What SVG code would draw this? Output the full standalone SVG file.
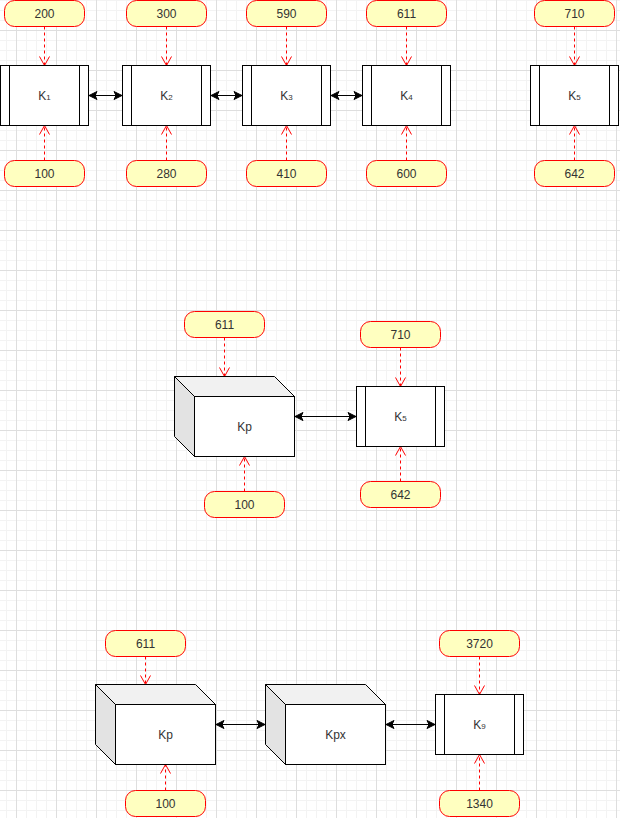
<svg xmlns="http://www.w3.org/2000/svg" width="620" height="818" viewBox="0 0 620 818">
<defs>
<pattern id="grid" width="40" height="40" patternUnits="userSpaceOnUse" x="16" y="30">
<rect x="10" y="0" width="1" height="40" fill="#f3f3f3"/>
<rect x="20" y="0" width="1" height="40" fill="#f3f3f3"/>
<rect x="30" y="0" width="1" height="40" fill="#f3f3f3"/>
<rect x="0" y="10" width="40" height="1" fill="#f3f3f3"/>
<rect x="0" y="20" width="40" height="1" fill="#f3f3f3"/>
<rect x="0" y="30" width="40" height="1" fill="#f3f3f3"/>
<rect x="0" y="0" width="1" height="40" fill="#dedede"/>
<rect x="0" y="0" width="40" height="1" fill="#dedede"/>
</pattern>
<marker id="open" markerUnits="userSpaceOnUse" markerWidth="12" markerHeight="12" viewBox="-10 -6 12 12" refX="0" refY="0" orient="auto">
<path d="M-9,-5 L0,0 L-9,5" fill="none" stroke="#ff0000" stroke-width="1"/>
</marker>
<marker id="cls" markerUnits="userSpaceOnUse" markerWidth="12" markerHeight="12" viewBox="-10 -6 12 12" refX="0" refY="0" orient="auto-start-reverse">
<path d="M0,0 L-8,-4 L-6,0 L-8,4 Z" fill="#000" stroke="#000" stroke-width="1"/>
</marker>
</defs>
<style>
.lbl{fill:#ffffc0;stroke:#ff0000;stroke-width:1}
.box{fill:#fff;stroke:#000;stroke-width:1}
.t{font-family:"Liberation Sans",Arial,sans-serif;font-size:12px;fill:#333;text-anchor:middle}
.sub{font-size:8px}
.red{fill:none;stroke:#ff0000;stroke-width:1;stroke-dasharray:3 3;marker-end:url(#open)}
.blk{fill:none;stroke:#000;stroke-width:1;marker-start:url(#cls);marker-end:url(#cls)}
.top{fill:#f1f1f1;stroke:#000}
.side{fill:#e3e3e3;stroke:#000}
</style>
<rect width="620" height="818" fill="#fff"/>
<rect width="620" height="818" fill="url(#grid)"/>

<g id="connectors">
<path class="red" d="M44.5,26.5 V65.5"/>
<path class="red" d="M166.5,26.5 V65.5"/>
<path class="red" d="M286.5,26.5 V65.5"/>
<path class="red" d="M406.5,26.5 V65.5"/>
<path class="red" d="M574.5,26.5 V65.5"/>
<path class="red" d="M44.5,160.5 V125.5"/>
<path class="red" d="M166.5,160.5 V125.5"/>
<path class="red" d="M286.5,160.5 V125.5"/>
<path class="red" d="M406.5,160.5 V125.5"/>
<path class="red" d="M574.5,160.5 V125.5"/>
<path class="blk" d="M89,95.5 H122"/>
<path class="blk" d="M211,95.5 H242"/>
<path class="blk" d="M331,95.5 H362"/>
<path class="red" d="M224.5,337.5 V376.5"/>
<path class="red" d="M244.5,491.5 V456.5"/>
<path class="red" d="M400.5,347.5 V386.5"/>
<path class="red" d="M400.5,481.5 V446.5"/>
<path class="blk" d="M295,416.5 H356"/>
<path class="red" d="M145.5,656.5 V684.5"/>
<path class="red" d="M165.5,790.5 V764.5"/>
<path class="red" d="M479.5,656.5 V694.5"/>
<path class="red" d="M479.5,790.5 V754.5"/>
<path class="blk" d="M216,724.5 H265"/>
<path class="blk" d="M386,724.5 H435"/>
</g>

<g id="K1"><rect class="box" x="0.5" y="65.5" width="88" height="60"/><path class="box" d="M9.5,65.5 V125.5 M79.5,65.5 V125.5"/><text class="t" x="44.5" y="100">K<tspan class="sub">1</tspan></text></g>
<g id="K2"><rect class="box" x="122.5" y="65.5" width="88" height="60"/><path class="box" d="M131.5,65.5 V125.5 M201.5,65.5 V125.5"/><text class="t" x="166.5" y="100">K<tspan class="sub">2</tspan></text></g>
<g id="K3"><rect class="box" x="242.5" y="65.5" width="88" height="60"/><path class="box" d="M251.5,65.5 V125.5 M321.5,65.5 V125.5"/><text class="t" x="286.5" y="100">K<tspan class="sub">3</tspan></text></g>
<g id="K4"><rect class="box" x="362.5" y="65.5" width="88" height="60"/><path class="box" d="M371.5,65.5 V125.5 M441.5,65.5 V125.5"/><text class="t" x="406.5" y="100">K<tspan class="sub">4</tspan></text></g>
<g id="K5"><rect class="box" x="530.5" y="65.5" width="88" height="60"/><path class="box" d="M539.5,65.5 V125.5 M609.5,65.5 V125.5"/><text class="t" x="574.5" y="100">K<tspan class="sub">5</tspan></text></g>

<g id="L200"><rect class="lbl" x="4.5" y="0.5" width="80" height="26" rx="10"/><text class="t" x="44.5" y="18">200</text></g>
<g id="L300"><rect class="lbl" x="126.5" y="0.5" width="80" height="26" rx="10"/><text class="t" x="166.5" y="18">300</text></g>
<g id="L590"><rect class="lbl" x="246.5" y="0.5" width="80" height="26" rx="10"/><text class="t" x="286.5" y="18">590</text></g>
<g id="L611a"><rect class="lbl" x="366.5" y="0.5" width="80" height="26" rx="10"/><text class="t" x="406.5" y="18">611</text></g>
<g id="L710a"><rect class="lbl" x="534.5" y="0.5" width="80" height="26" rx="10"/><text class="t" x="574.5" y="18">710</text></g>
<g id="L100a"><rect class="lbl" x="4.5" y="160.5" width="80" height="26" rx="10"/><text class="t" x="44.5" y="178">100</text></g>
<g id="L280"><rect class="lbl" x="126.5" y="160.5" width="80" height="26" rx="10"/><text class="t" x="166.5" y="178">280</text></g>
<g id="L410"><rect class="lbl" x="246.5" y="160.5" width="80" height="26" rx="10"/><text class="t" x="286.5" y="178">410</text></g>
<g id="L600"><rect class="lbl" x="366.5" y="160.5" width="80" height="26" rx="10"/><text class="t" x="406.5" y="178">600</text></g>
<g id="L642a"><rect class="lbl" x="534.5" y="160.5" width="80" height="26" rx="10"/><text class="t" x="574.5" y="178">642</text></g>

<g id="Kp1">
<path class="top" d="M174.5,376.5 H274.5 L294.5,396.5 H194.5 Z"/>
<path class="side" d="M174.5,376.5 L194.5,396.5 V456.5 L174.5,436.5 Z"/>
<rect class="box" x="194.5" y="396.5" width="100" height="60"/>
<text class="t" x="244.5" y="431">Kp</text>
</g>
<g id="K5b"><rect class="box" x="356.5" y="386.5" width="88" height="60"/><path class="box" d="M365.5,386.5 V446.5 M435.5,386.5 V446.5"/><text class="t" x="400.5" y="421">K<tspan class="sub">5</tspan></text></g>
<g id="L611b"><rect class="lbl" x="184.5" y="311.5" width="80" height="26" rx="10"/><text class="t" x="224.5" y="329">611</text></g>
<g id="L100b"><rect class="lbl" x="204.5" y="491.5" width="80" height="26" rx="10"/><text class="t" x="244.5" y="509">100</text></g>
<g id="L710b"><rect class="lbl" x="360.5" y="321.5" width="80" height="26" rx="10"/><text class="t" x="400.5" y="339">710</text></g>
<g id="L642b"><rect class="lbl" x="360.5" y="481.5" width="80" height="26" rx="10"/><text class="t" x="400.5" y="499">642</text></g>

<g id="Kp2">
<path class="top" d="M95.5,684.5 H195.5 L215.5,704.5 H115.5 Z"/>
<path class="side" d="M95.5,684.5 L115.5,704.5 V764.5 L95.5,744.5 Z"/>
<rect class="box" x="115.5" y="704.5" width="100" height="60"/>
<text class="t" x="165.5" y="739">Kp</text>
</g>
<g id="Kpx">
<path class="top" d="M265.5,684.5 H365.5 L385.5,704.5 H285.5 Z"/>
<path class="side" d="M265.5,684.5 L285.5,704.5 V764.5 L265.5,744.5 Z"/>
<rect class="box" x="285.5" y="704.5" width="100" height="60"/>
<text class="t" x="335.5" y="739">Kpx</text>
</g>
<g id="K9"><rect class="box" x="435.5" y="694.5" width="88" height="60"/><path class="box" d="M444.5,694.5 V754.5 M514.5,694.5 V754.5"/><text class="t" x="479.5" y="729">K<tspan class="sub">9</tspan></text></g>
<g id="L611c"><rect class="lbl" x="105.5" y="630.5" width="80" height="26" rx="10"/><text class="t" x="145.5" y="648">611</text></g>
<g id="L100c"><rect class="lbl" x="125.5" y="790.5" width="80" height="26" rx="10"/><text class="t" x="165.5" y="808">100</text></g>
<g id="L3720"><rect class="lbl" x="439.5" y="630.5" width="80" height="26" rx="10"/><text class="t" x="479.5" y="648">3720</text></g>
<g id="L1340"><rect class="lbl" x="439.5" y="790.5" width="80" height="26" rx="10"/><text class="t" x="479.5" y="808">1340</text></g>
</svg>
